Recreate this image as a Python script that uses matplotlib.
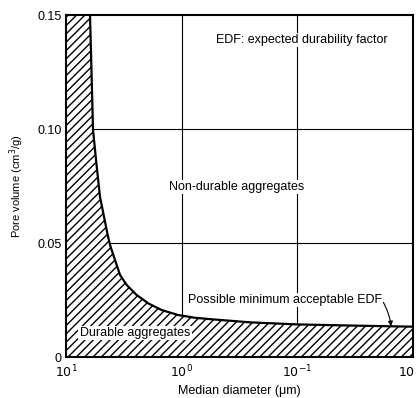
import numpy as np
import matplotlib
matplotlib.use("Agg")
import matplotlib.pyplot as plt

plt.rcParams['font.family'] = ['Liberation Sans', 'DejaVu Sans']

# boundary curve: median diameter (um) vs pore volume (cm3/g)
diameter = [6.20, 5.84, 5.50, 5.08, 4.54, 4.36, 4.16, 3.82, 3.41, 2.99, 2.45, 1.94,
            1.49, 1.07, 0.767, 0.536, 0.257, 0.101, 0.035, 0.01]
pore_vol = [0.150, 0.0996, 0.0864, 0.0702, 0.0579, 0.0535, 0.0491, 0.0434, 0.0360,
            0.0316, 0.0272, 0.0235, 0.0206, 0.0184, 0.0172, 0.0165, 0.0152, 0.0143,
            0.0138, 0.0133]

x_ticks = [10, 1, 0.1, 0.01]
x_ticklabels = ['$10^1$', '$10^0$', '$10^{-1}$', '$10^{-2}$']
y_ticks = [0, 0.05, 0.10, 0.15]
y_ticklabels = ['0', '0.05', '0.10', '0.15']

fig = plt.figure(figsize=(4.16, 3.98), dpi=100)
ax = fig.add_axes([66/416, 1-357/398, 347/416, 342/398])
ax.set_xscale('log')
ax.set_xlim(10, 0.01)
ax.set_ylim(0, 0.15)

# grid lines
for xv in [1, 0.1]:
    ax.axvline(xv, color='black', lw=0.8, zorder=1)
for yv in [0.05, 0.10]:
    ax.axhline(yv, color='black', lw=0.8, zorder=1)

# hatched durable region
d = np.array(diameter)
p = np.array(pore_vol)
xs = np.concatenate([[10], d, [0.01, 10]])
ys = np.concatenate([[0.15], p, [0, 0]])
ax.fill(xs, ys, facecolor='white', edgecolor='none', zorder=2)
ax.fill(xs, ys, facecolor='none', edgecolor='black', hatch='////', lw=0, zorder=3)
ax.plot(d, p, color='black', lw=1.6, zorder=4, solid_joinstyle='round')

ax.set_xticks(x_ticks)
ax.set_xticklabels(x_ticklabels)
ax.set_yticks(y_ticks)
ax.set_yticklabels(y_ticklabels)
ax.minorticks_off()
ax.tick_params(length=0, labelsize=9)
ax.tick_params(axis='y', pad=3)
ax.tick_params(axis='x', pad=5)
for s in ax.spines.values():
    s.set_linewidth(1.5)
    s.set_zorder(5)

ax.set_xlabel('Median diameter (\u03bcm)', fontsize=9, labelpad=3)
ax.set_ylabel('Pore volume (cm$^3$/g)', fontsize=8, labelpad=8)

bb = dict(facecolor='white', edgecolor='none', pad=1)
ax.text(0.679, 0.927, 'EDF: expected durability factor', transform=ax.transAxes,
        ha='center', va='center', fontsize=9, bbox=bb, zorder=6)
ax.text(0.493, 0.497, 'Non-durable aggregates', transform=ax.transAxes,
        ha='center', va='center', fontsize=9, bbox=bb, zorder=6)
ax.text(0.199, 0.070, 'Durable aggregates', transform=ax.transAxes,
        ha='center', va='center', fontsize=9, bbox=bb, zorder=6)
ax.annotate('Possible minimum acceptable EDF', xy=(0.937, 0.090), xycoords='axes fraction',
            xytext=(0.631, 0.167), textcoords='axes fraction', ha='center', va='center',
            fontsize=9, bbox=bb, zorder=6,
            arrowprops=dict(arrowstyle='-|>', color='black', lw=0.8,
                            connectionstyle='arc3,rad=-0.1', shrinkA=0, shrinkB=0,
                            mutation_scale=7, relpos=(1.0, 0.5)))

fig.savefig('out.png', dpi=100)
